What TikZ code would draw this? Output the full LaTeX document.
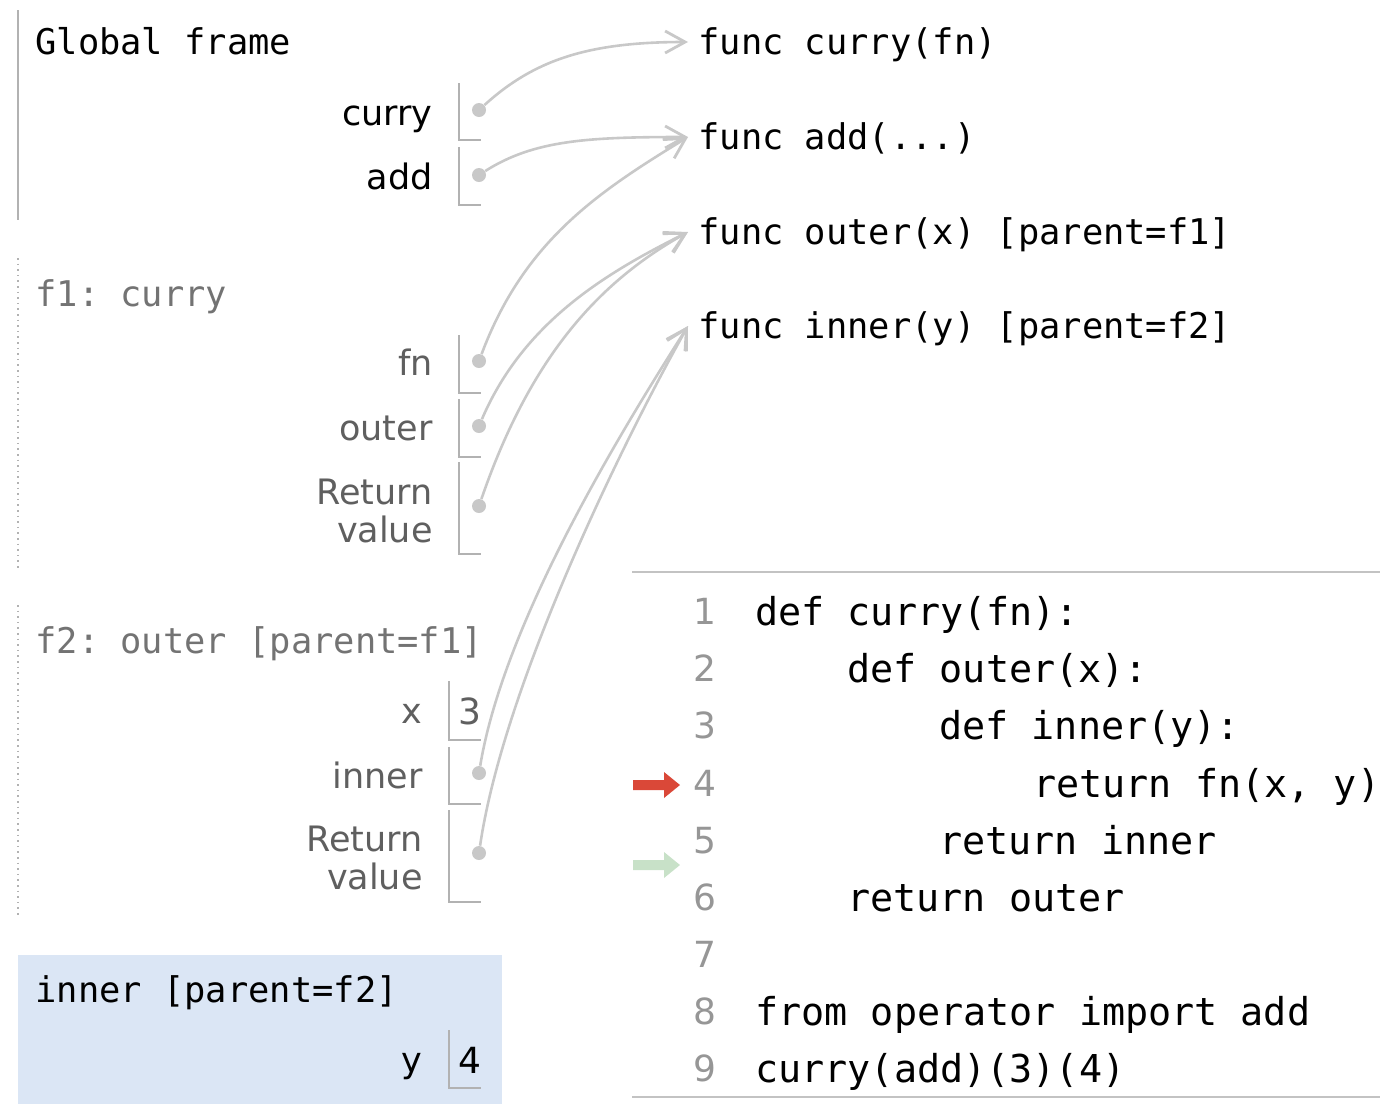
\documentclass[tikz,border=0pt]{standalone}
\usepackage{fontspec}
\setmainfont{DejaVu Sans}
\setmonofont{DejaVu Sans Mono}
\usetikzlibrary{arrows.meta}

\definecolor{arrowgray}{RGB}{200,200,200}
\definecolor{boxgray}{RGB}{178,178,178}
\definecolor{labelgray}{RGB}{95,95,95}
\definecolor{titlegray}{RGB}{115,115,115}
\definecolor{lnumgray}{RGB}{150,150,150}
\definecolor{rulegray}{RGB}{195,195,195}
\definecolor{curred}{RGB}{218,72,56}
\definecolor{prevgreen}{RGB}{200,225,200}
\definecolor{framefill}{RGB}{219,230,245}

\tikzset{
  ftitle/.style={font=\ttfamily\fontsize{17.7}{21}\selectfont, anchor=west, inner sep=0pt, text height=15pt, text depth=2.5pt},
  fobj/.style={ftitle, inner xsep=5pt},
  codeline/.style={font=\ttfamily\fontsize{19.2}{23}\selectfont, anchor=west, inner sep=0pt, text height=16pt, text depth=2pt},
  lnum/.style={font=\fontsize{18}{21}\selectfont, text=lnumgray, inner sep=0pt, text height=13pt, text depth=0pt},
  varname/.style={font=\fontsize{17.5}{19}\selectfont, anchor=east, inner sep=0pt, text height=15pt, text depth=2.5pt},
  retname/.style={font=\fontsize{17.5}{19}\selectfont, anchor=east, inner sep=0pt, align=right},
  valtext/.style={font=\fontsize{18}{21}\selectfont, anchor=west, inner sep=0pt, text height=13pt, text depth=0pt},
  slot/.style={draw=boxgray, line width=0.8pt},
  ptrdot/.style={circle, fill=arrowgray, inner sep=0pt, minimum size=7pt},
  ptr/.style={draw=arrowgray, line width=1.3pt, -{Straight Barb[length=10pt,width=11pt,line width=1.4pt]}}
}

\begin{document}
\begin{tikzpicture}[x=0.5pt, y=-0.5pt]
\useasboundingbox (0,0) rectangle (1391,1104);

%Global frame
\draw[boxgray, line width=1pt] (18,10)--(18,220);
\node[ftitle] (gf) at (35,42) {Global frame};
\node[varname] (vcurry) at (433,113) {curry};
\node[varname] (vadd) at (433,177) {add};
\draw[slot] (459,83) |- (481,140);
\draw[slot] (459,147) |- (481,205);
\node[ptrdot] (dcurry) at (479,110) {};
\node[ptrdot] (dadd) at (479,175) {};

%f1: curry
\draw[boxgray, line width=0.8pt, dotted] (18,258)--(18,568);
\node[ftitle, text=titlegray] (f1) at (35,294) {f1: curry};
\node[varname, text=labelgray] (vfn) at (433,363) {fn};
\node[varname, text=labelgray] (vouter) at (433,428) {outer};
\node[retname, text=labelgray] (vret1) at (433,511) {Return\\value};
\draw[slot] (459,335) |- (481,393);
\draw[slot] (459,399) |- (481,457);
\draw[slot] (459,462) |- (481,554);
\node[ptrdot] (dfn) at (479,361) {};
\node[ptrdot] (douter) at (479,426) {};
\node[ptrdot] (dret1) at (479,506) {};

%f2: outer
\draw[boxgray, line width=0.8pt, dotted] (18,605)--(18,918);
\node[ftitle, text=titlegray] (f2) at (35,641) {f2: outer [parent=f1]};
\node[varname, text=labelgray] (vx) at (423,711) {x};
\node[valtext, text=labelgray] (valx) at (458,711) {3};
\node[varname, text=labelgray] (vinner) at (423,776) {inner};
\node[retname, text=labelgray] (vret2) at (423,858) {Return\\value};
\draw[slot] (449,681) |- (481,740);
\draw[slot] (449,747) |- (481,804);
\draw[slot] (449,810) |- (481,902);
\node[ptrdot] (dinner) at (479,773) {};
\node[ptrdot] (dret2) at (479,853) {};

%inner frame (current)
\fill[framefill] (18,955) rectangle (502,1104);
\node[ftitle] (f3) at (35,990) {inner [parent=f2]};
\node[varname] (vy) at (423,1060) {y};
\node[valtext] (valy) at (458,1060) {4};
\draw[slot] (449,1030) |- (481,1088);

%Objects
\node[fobj] (ocurry) at (688,42) {func curry(fn)};
\node[fobj] (oadd) at (688,137) {func add(...)};
\node[fobj] (oouter) at (688,232) {func outer(x) [parent=f1]};
\node[fobj] (oinner) at (688,326) {func inner(y) [parent=f2]};

%Pointers
\draw[ptr] (dcurry) .. controls +(55,-50) and +(-100,0) .. (ocurry.west);
\draw[ptr] (dadd) .. controls +(55,-35) and +(-100,0) .. (oadd.west);
\draw[ptr] (dfn) .. controls +(45,-120) and +(-90,55) .. (oadd.west);
\draw[ptr] (douter) .. controls +(45,-105) and +(-80,40) .. (oouter.west);
\draw[ptr] (dret1) .. controls +(55,-160) and +(-80,45) .. (oouter.west);
\draw[ptr] (dinner) .. controls +(25,-150) and +(-70,110) .. (oinner.west);
\draw[ptr] (dret2) .. controls +(25,-170) and +(-62,110) .. (oinner.west);

%Code
\draw[rulegray, line width=0.8pt] (632,572)--(1380,572);
\draw[rulegray, line width=0.8pt] (632,1097)--(1380,1097);
\node[lnum] (n1) at (705,611) {1};
\node[lnum] (n2) at (705,668) {2};
\node[lnum] (n3) at (705,725) {3};
\node[lnum] (n4) at (705,783) {4};
\node[lnum] (n5) at (705,840) {5};
\node[lnum] (n6) at (705,897) {6};
\node[lnum] (n7) at (705,954) {7};
\node[lnum] (n8) at (705,1011) {8};
\node[lnum] (n9) at (705,1068) {9};
\node[codeline] (c1) at (755,611) {def curry(fn):};
\node[codeline] (c2) at (847,668) {def outer(x):};
\node[codeline] (c3) at (939,725) {def inner(y):};
\node[codeline] (c4) at (1033,783) {return fn(x, y)};
\node[codeline] (c5) at (939,840) {return inner};
\node[codeline] (c6) at (847,897) {return outer};
\node[codeline] (c8) at (755,1011) {from operator import add};
\node[codeline] (c9) at (755,1068) {curry(add)(3)(4)};

%Line markers
\fill[curred] (633,780)--(664,780)--(664,772)--(680,785)--(664,798)--(664,790)--(633,790)--cycle;
\fill[prevgreen] (633,860)--(664,860)--(664,852)--(680,865)--(664,878)--(664,870)--(633,870)--cycle;

\end{tikzpicture}
\end{document}
